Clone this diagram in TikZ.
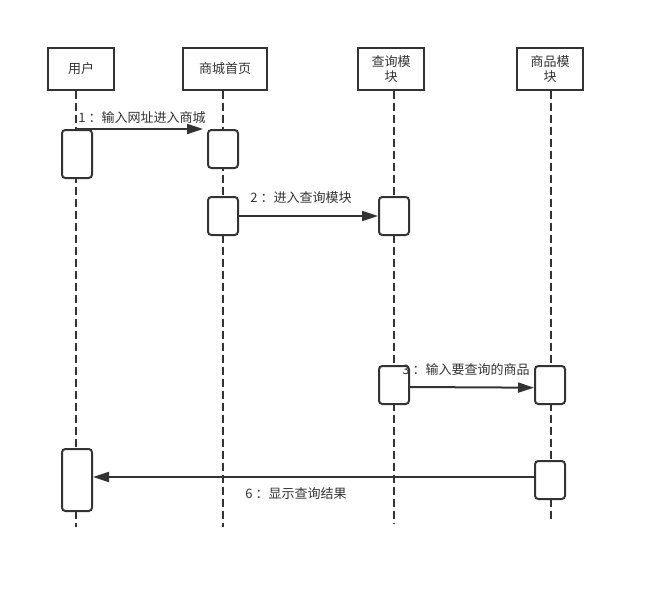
\documentclass[tikz,border=0pt]{standalone}
\usepackage{fontspec}
\setmainfont{Noto Sans CJK SC}
\usetikzlibrary{arrows.meta}
\definecolor{ln}{HTML}{333333}
\tikzset{
  head/.style={draw=ln, line width=1.5pt, fill=white, minimum height=31.5pt, inner sep=1pt, align=center, font=\fontsize{9.75}{11.5}\selectfont, text=ln},
  act/.style={draw=ln, line width=1.5pt, fill=white, rounded corners=2.5pt, minimum width=22.5pt, inner sep=0pt},
  life/.style={draw=ln, line width=1.5pt, dash pattern=on 6pt off 3pt},
  msg/.style={draw=ln, line width=1.5pt, -{Triangle[length=12pt,width=7.5pt]}},
  lbl/.style={font=\fontsize{9.75}{11}\selectfont, text=ln, inner sep=0pt}
}
\begin{document}
\begin{tikzpicture}[x=0.75pt,y=-0.75pt]
\useasboundingbox[fill=white] (0,0) rectangle (645,589);
% headers
\node[head, minimum width=49.5pt] (hu) at (81,69) {用户};
\node[head, minimum width=63pt] (hs) at (225,69) {商城首页};
\node[head, minimum width=49.5pt, text width=42pt] (hq) at (391,69) {查询模\\块};
\node[head, minimum width=49.5pt, text width=42pt] (hp) at (550,69) {商品模\\块};
% lifeline ends
\coordinate (lu) at (76,527);
\coordinate (ls) at (222.5,527);
\coordinate (lq) at (394,524);
\coordinate (lp) at (551,521);
\draw[life] (hu.south -| lu) -- (lu);
\draw[life] (hs.south -| ls) -- (ls);
\draw[life] (hq.south -| lq) -- (lq);
\draw[life] (hp.south -| lp) -- (lp);
% activations
\node[act, minimum height=36pt] (u1) at (77,154) {};
\node[act, minimum height=28.5pt] (s1) at (223,149) {};
\node[act, minimum height=28.5pt] (s2) at (223,216) {};
\node[act, minimum height=28.5pt] (q1) at (394,216) {};
\node[act, minimum height=28.5pt] (q2) at (394,385) {};
\node[act, minimum height=28.5pt] (p1) at (550,385) {};
\node[act, minimum height=28.5pt] (p2) at (550,480) {};
\node[act, minimum height=46.5pt] (u2) at (77,480) {};
% messages
\coordinate (m1s) at (76,129);
\coordinate (m1e) at (203,129);
\draw[msg] (m1s) -- (m1e);
\draw[msg] (s2.east) -- (q1.west);
\draw[msg] ([yshift=-1.5pt]q2.east) -- ([yshift=-2pt]p1.west);
\draw[msg] ([yshift=2.25pt]p2.west) -- ([yshift=2.25pt]u2.east);
% labels
\node[lbl] (t1) at (142,118) {1 ：输入网址进入商城};
\node[lbl] (t2) at (301,198) {2 ：进入查询模块};
\node[lbl] (t3) at (466,370) {3 ：输入要查询的商品};
\node[lbl] (t6) at (296,494) {6 ：显示查询结果};
\end{tikzpicture}
\end{document}
